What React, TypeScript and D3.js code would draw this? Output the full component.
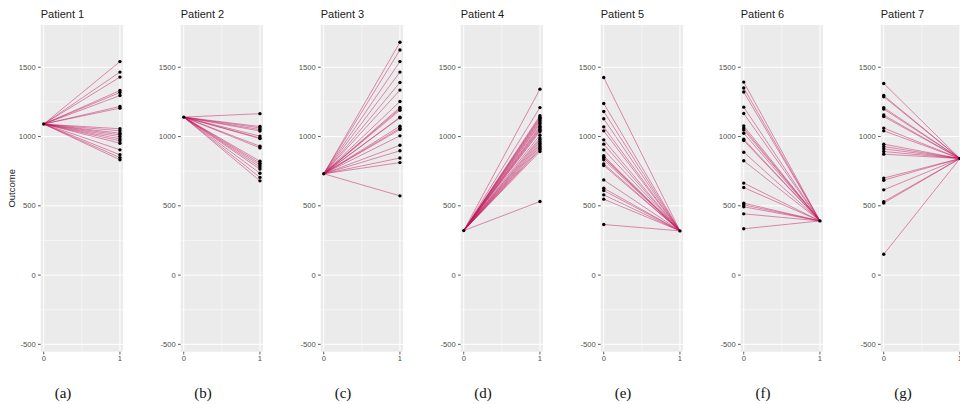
import React from "react";
import * as d3 from "d3";

const patients = ["Patient 1", "Patient 2", "Patient 3", "Patient 4", "Patient 5", "Patient 6", "Patient 7"];
const captions = ["(a)", "(b)", "(c)", "(d)", "(e)", "(f)", "(g)"];

// For patients 1-4: single value at time 0, many at time 1.
// For patients 5-7: many values at time 0, single value at time 1.
const p1Start = [1090];
const p1End = [1541, 1465, 1429, 1332, 1318, 1296, 1217, 1205, 1056, 1041, 1024, 1012, 998, 983, 969, 952, 904, 868, 848, 832];
const p2Start = [1140];
const p2End = [1165, 1072, 1062, 1050, 1040, 1003, 990, 985, 930, 918, 822, 808, 795, 780, 765, 735, 705, 680];
const p3Start = [731];
const p3End = [1680, 1625, 1541, 1465, 1390, 1335, 1253, 1210, 1200, 1190, 1140, 1135, 1075, 1060, 1050, 1005, 937, 897, 845, 812, 572];
const p4Start = [321];
const p4End = [1342, 1209, 1150, 1140, 1132, 1122, 1112, 1100, 1090, 1075, 1065, 1055, 1045, 1035, 1010, 990, 978, 965, 952, 940, 928, 915, 905, 892, 531];
const p5Start = [1426, 1238, 1181, 1128, 1070, 1041, 976, 945, 904, 861, 850, 846, 832, 803, 791, 687, 627, 610, 579, 548, 365];
const p5End = [319];
const p6Start = [1393, 1350, 1321, 1212, 1166, 1077, 1061, 1048, 1024, 981, 971, 887, 825, 664, 632, 519, 507, 493, 442, 334];
const p6End = [391];
const p7Start = [1383, 1296, 1287, 1209, 1198, 1155, 1144, 1061, 1041, 945, 928, 911, 892, 873, 700, 685, 615, 530, 520, 150];
const p7End = [841];

const starts = [p1Start, p2Start, p3Start, p4Start, p5Start, p6Start, p7Start];
const ends = [p1End, p2End, p3End, p4End, p5End, p6End, p7End];

const yTicks = [-500, 0, 500, 1000, 1500];
const yMinor = [-250, 250, 750, 1250];
const xTicks = [0, 1];
const xMinor = [0.5];

const W = 960;
const H = 404;
const panelStep = 140;
const panelLeft0 = 40.7;
const panelW = 82.3;
const top = 25;
const bottom = 351.7;

export default function App() {
  const y = d3.scaleLinear().domain([-553, 1805]).range([bottom, top]);

  const panels = patients.map((name, i) => {
    const left = panelLeft0 + panelStep * i;
    const x = d3.scaleLinear().domain([-0.04, 1.04]).range([left, left + panelW]);
    const s = starts[i];
    const e = ends[i];
    const pairs: [number, number][] = [];
    if (s.length === 1) e.forEach((v) => pairs.push([s[0], v]));
    else s.forEach((v) => pairs.push([v, e[0]]));
    const line = d3
      .line<[number, number]>()
      .x((d) => x(d[0]))
      .y((d) => y(d[1]));
    return (
      <g key={name}>
        <rect x={left} y={top} width={panelW} height={bottom - top} fill="#EBEBEB" />
        {yMinor.map((t) => (
          <line key={"ym" + t} x1={left} x2={left + panelW} y1={y(t)} y2={y(t)} stroke="#fff" strokeWidth={0.5} />
        ))}
        {xMinor.map((t) => (
          <line key={"xm" + t} x1={x(t)} x2={x(t)} y1={top} y2={bottom} stroke="#fff" strokeWidth={0.5} />
        ))}
        {yTicks.map((t) => (
          <line key={"yg" + t} x1={left} x2={left + panelW} y1={y(t)} y2={y(t)} stroke="#fff" strokeWidth={1} />
        ))}
        {xTicks.map((t) => (
          <line key={"xg" + t} x1={x(t)} x2={x(t)} y1={top} y2={bottom} stroke="#fff" strokeWidth={1} />
        ))}
        {pairs.map((p, j) => (
          <path
            key={"l" + j}
            d={line([
              [0, p[0]],
              [1, p[1]],
            ]) || ""}
            fill="none"
            stroke="#C0185A"
            strokeOpacity={0.6}
            strokeWidth={0.8}
          />
        ))}
        {s.map((v, j) => (
          <circle key={"s" + j} cx={x(0)} cy={y(v)} r={1.7} fill="#000" />
        ))}
        {e.map((v, j) => (
          <circle key={"e" + j} cx={x(1)} cy={y(v)} r={1.7} fill="#000" />
        ))}
        {yTicks.map((t) => (
          <g key={"yt" + t}>
            <line x1={left - 2.7} x2={left} y1={y(t)} y2={y(t)} stroke="#333" strokeWidth={0.8} />
            <text
              x={left - 5}
              y={y(t)}
              dy="0.35em"
              textAnchor="end"
              fontSize={7.6}
              fill="#4D4D4D"
              fontFamily="Liberation Sans, Arial, sans-serif"
            >
              {t}
            </text>
          </g>
        ))}
        {xTicks.map((t) => (
          <g key={"xt" + t}>
            <line x1={x(t)} x2={x(t)} y1={bottom} y2={bottom + 2.7} stroke="#333" strokeWidth={0.8} />
            <text
              x={x(t)}
              y={bottom + 9.5}
              textAnchor="middle"
              fontSize={7.6}
              fill="#4D4D4D"
              fontFamily="Liberation Sans, Arial, sans-serif"
            >
              {t}
            </text>
          </g>
        ))}
        <text
          x={left}
          y={18.3}
          fontSize={11}
          fill="#1A1A1A"
          fontFamily="Liberation Sans, Arial, sans-serif"
        >
          {name}
        </text>
        <text
          x={63 + panelStep * i}
          y={398}
          textAnchor="middle"
          fontSize={15}
          fill="#111"
          fontFamily="Liberation Serif, DejaVu Serif, serif"
        >
          {captions[i]}
        </text>
      </g>
    );
  });

  return (
    <svg
      width={W}
      height={H}
      viewBox={`0 0 ${W} ${H}`}
      style={{ position: "absolute", left: 0, top: 0, background: "#fff" }}
    >
      <rect x={0} y={0} width={W} height={H} fill="#fff" />
      {panels}
      <text
        transform={`translate(14.5, ${(top + bottom) / 2}) rotate(-90)`}
        textAnchor="middle"
        fontSize={9.5}
        fill="#1A1A1A"
        fontFamily="Liberation Sans, Arial, sans-serif"
      >
        Outcome
      </text>
    </svg>
  );
}
